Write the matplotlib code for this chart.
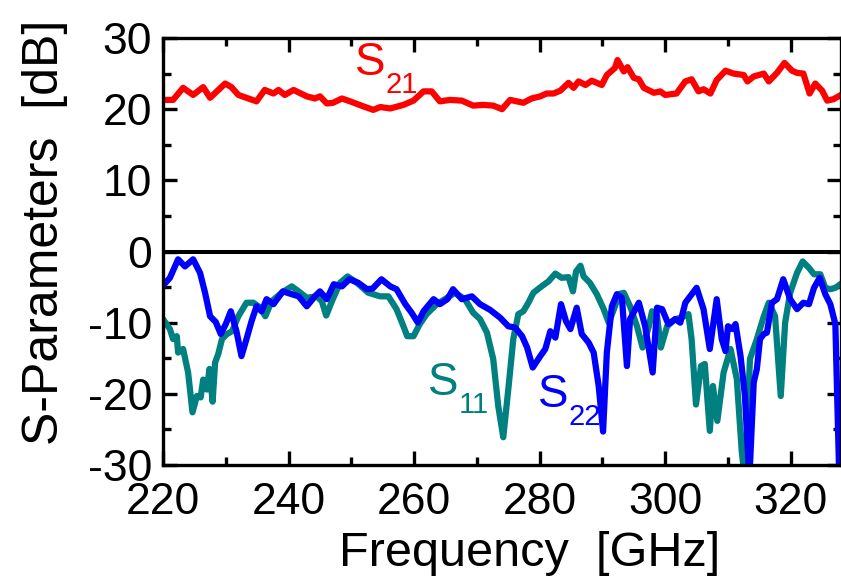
import numpy as np
import matplotlib
matplotlib.use('Agg')
import matplotlib.pyplot as plt
import matplotlib.transforms as mtransforms
from matplotlib.ticker import MultipleLocator

plt.rcParams['font.family'] = ['Liberation Sans', 'DejaVu Sans']
plt.rcParams['axes.unicode_minus'] = False

# S21 (gain) trace
s21_f = [220.0, 221.6, 223.2, 224.8, 226.4, 227.5, 229.9, 230.9, 232.0, 233.6, 234.9, 236.2,
         237.6, 238.4, 239.4, 240.8, 242.9, 244.2, 245.0, 246.1, 247.1, 248.5, 249.8, 251.9,
         253.5, 254.6, 256.2, 258.3, 259.9, 261.5, 262.8, 264.1, 265.7, 267.6, 269.4, 271.0,
         272.6, 274.0, 275.3, 277.4, 278.7, 280.1, 281.1, 282.2, 283.3, 284.6, 285.4, 286.2,
         287.3, 288.3, 289.9, 290.7, 292.0, 292.4, 293.4, 294.0, 295.0, 295.8, 296.6, 298.2,
         299.2, 300.0, 301.8, 303.2, 304.2, 305.3, 306.1, 307.2, 308.2, 309.6, 310.9, 312.5,
         313.1, 314.1, 315.7, 316.5, 317.8, 319.0, 320.2, 321.0, 322.0, 323.0, 323.9, 325.0,
         325.8, 326.8, 327.8]
s21_db = [21.3, 21.3, 23.0, 22.0, 23.1, 21.6, 23.6, 23.1, 22.0, 21.5, 21.1, 22.7,
          22.2, 22.7, 22.0, 22.7, 21.8, 21.5, 21.8, 20.8, 20.9, 21.5, 21.1, 20.4,
          19.9, 20.3, 20.1, 20.6, 21.2, 22.5, 22.5, 21.1, 21.3, 21.2, 20.5, 20.6,
          20.5, 20.0, 21.3, 20.9, 21.5, 21.8, 22.2, 22.2, 22.6, 23.7, 23.0, 23.9,
          23.4, 24.0, 23.4, 24.8, 25.8, 26.9, 25.3, 25.9, 24.4, 24.2, 23.0, 22.3,
          22.5, 22.0, 22.2, 23.9, 24.2, 22.5, 22.8, 22.2, 24.1, 25.4, 25.0, 24.8,
          23.9, 24.6, 25.0, 23.9, 25.1, 26.5, 25.4, 25.1, 25.0, 22.2, 23.6, 22.6,
          21.2, 21.4, 21.9]

# S11 (input reflection)
s11_f = [220.0, 221.1, 221.6, 222.2, 222.4, 223.2, 224.0, 224.7, 225.4, 226.0, 226.4, 227.0,
         227.4, 227.9, 228.3, 228.8, 229.4, 230.2, 231.0, 232.0, 233.3, 234.4, 235.5, 236.3,
         237.3, 238.9, 240.5, 241.6, 242.9, 244.5, 245.3, 246.0, 246.9, 248.2, 249.4, 250.9,
         252.7, 254.6, 255.9, 257.2, 258.3, 258.9, 259.9, 260.9, 262.0, 263.6, 264.9, 266.5,
         268.1, 269.4, 270.5, 271.6, 272.6, 273.4, 274.2, 275.0, 275.8, 276.6, 277.4, 278.2,
         279.0, 280.3, 281.4, 282.5, 283.5, 284.6, 285.3, 285.8, 286.5, 287.0, 288.0, 289.1,
         290.2, 291.0, 292.0, 292.6, 293.4, 294.4, 295.5, 296.4, 297.4, 297.9, 298.7, 299.3,
         300.3, 301.6, 302.6, 303.7, 304.2, 304.9, 305.7, 306.3, 307.1, 307.6, 308.3, 309.3,
         310.4, 311.4, 312.2, 312.7, 313.5, 314.6, 315.7, 316.5, 317.5, 318.4, 319.1, 319.9,
         321.0, 321.9, 322.9, 323.7, 324.7, 325.5, 326.3, 327.1, 327.9]
s11_db = [-9.5, -10.9, -12.3, -11.9, -14.2, -13.7, -17.0, -22.6, -20.3, -20.5, -18.0, -19.4,
          -16.5, -21.1, -15.6, -14.4, -12.3, -11.6, -11.2, -9.1, -7.2, -7.2, -7.9, -9.1,
          -7.0, -5.8, -4.9, -5.6, -6.5, -6.3, -7.0, -9.0, -7.0, -4.4, -3.5, -4.4,
          -5.8, -6.3, -6.3, -8.1, -10.5, -11.9, -11.9, -10.2, -8.8, -7.4, -6.7, -5.8,
          -6.7, -8.6, -9.5, -11.4, -15.1, -21.7, -26.1, -19.4, -12.3, -8.8, -8.4, -7.2,
          -5.8, -4.9, -4.2, -3.1, -3.7, -3.6, -5.6, -2.8, -2.0, -3.5, -4.4, -6.0,
          -8.1, -10.0, -7.7, -6.0, -5.8, -7.7, -10.5, -13.5, -10.5, -8.4, -9.1, -13.5,
          -10.5, -9.5, -9.3, -8.8, -12.3, -21.5, -16.1, -15.8, -25.2, -18.9, -23.8, -17.0,
          -13.7, -17.9, -28.2, -32.0, -15.1, -12.3, -9.1, -7.2, -9.1, -20.3, -10.0, -5.8,
          -3.0, -1.4, -2.3, -3.2, -3.2, -5.1, -5.3, -5.1, -4.6]

# S22 (output reflection)
s22_f = [220.0, 221.1, 222.4, 223.5, 224.8, 225.9, 226.7, 227.5, 228.4, 229.2, 230.0, 230.8,
         231.7, 232.5, 233.3, 234.1, 234.9, 235.7, 236.5, 237.6, 239.1, 240.5, 241.6, 242.9,
         244.2, 245.0, 246.1, 247.2, 248.5, 249.7, 251.1, 252.5, 253.4, 254.8, 256.2, 257.2,
         258.6, 259.6, 260.6, 261.5, 263.1, 264.1, 265.3, 266.2, 267.6, 269.2, 270.5, 272.1,
         273.7, 275.0, 276.1, 277.2, 278.0, 278.9, 280.1, 280.9, 281.7, 282.5, 283.4, 284.2,
         284.9, 285.9, 286.7, 287.8, 288.6, 289.4, 290.1, 290.7, 291.5, 292.3, 293.1, 293.9,
         294.4, 295.8, 296.8, 298.0, 298.7, 299.5, 300.5, 301.6, 302.4, 303.2, 305.0, 306.1,
         307.1, 308.2, 309.0, 309.6, 310.0, 310.7, 311.2, 312.0, 312.7, 313.4, 314.1, 314.6,
         315.1, 315.7, 316.2, 317.0, 317.8, 318.8, 319.9, 321.0, 322.0, 322.9, 323.7, 324.6,
         325.5, 326.3, 327.1, 327.7]
s22_db = [-4.8, -3.7, -1.1, -2.1, -1.1, -3.0, -5.8, -9.1, -9.9, -11.6, -10.2, -8.4,
          -11.2, -14.7, -12.3, -9.8, -7.7, -8.4, -6.7, -7.4, -5.6, -6.0, -6.3, -7.7,
          -6.3, -5.6, -6.7, -4.6, -4.9, -3.9, -4.4, -5.3, -5.2, -3.9, -4.9, -5.3,
          -7.4, -8.6, -10.0, -8.4, -6.7, -7.4, -6.7, -5.3, -6.7, -6.3, -7.4, -8.2,
          -9.3, -10.5, -10.7, -11.9, -13.5, -16.3, -14.7, -13.7, -11.2, -12.1, -7.4, -9.8,
          -10.9, -7.9, -11.6, -12.8, -14.2, -18.9, -25.3, -14.2, -7.7, -6.0, -6.5, -16.1,
          -9.5, -7.2, -10.5, -17.0, -7.9, -8.1, -10.2, -9.5, -10.0, -7.2, -5.1, -8.1,
          -13.7, -6.7, -12.3, -14.0, -10.5, -10.9, -10.2, -14.7, -20.3, -32.0, -18.4, -16.5,
          -12.3, -11.6, -11.4, -7.2, -6.7, -3.9, -6.7, -8.1, -7.2, -7.4, -5.1, -3.7,
          -6.0, -7.4, -10.2, -31.0]

# trace labels: (freq, dB, subscript, colour)
labels = [(250.6, 24.8, '21', '#FF0000'),
          (262.2, -20.1, '11', '#008080'),
          (279.8, -21.9, '22', '#0000FF')]

fig = plt.figure(figsize=(8.41, 5.78), dpi=100)
ax = fig.add_axes([163 / 841, 1 - 465 / 578, 678 / 841, 427 / 578])

lw = 4.5
ax.plot(s11_f, s11_db, color='#008080', lw=lw, solid_joinstyle='round')
ax.plot(s22_f, s22_db, color='#0000FF', lw=lw, solid_joinstyle='round')
ax.plot(s21_f, s21_db, color='#FF0000', lw=lw, solid_joinstyle='round')
ax.axhline(0, color='black', lw=2.9)

ax.set_xlim(220, 328)
ax.set_ylim(-30, 30)
ax.xaxis.set_major_locator(MultipleLocator(20))
ax.xaxis.set_minor_locator(MultipleLocator(10))
ax.yaxis.set_major_locator(MultipleLocator(10))
ax.yaxis.set_minor_locator(MultipleLocator(5))
ax.tick_params(which='both', direction='in', top=True, right=True, width=2.4)
ax.tick_params(which='major', length=10, labelsize=32)
ax.tick_params(which='minor', length=5.5)
ax.tick_params(axis='x', pad=12)
ax.tick_params(axis='y', pad=8)
for sp in ax.spines.values():
    sp.set_linewidth(2.4)

ax.set_xlabel('Frequency  [GHz]', fontsize=35)
ax.set_ylabel('S-Parameters  [dB]', fontsize=36)
ax.xaxis.set_label_coords(0.541, -0.155)
ax.yaxis.set_label_coords(-0.14, 0.545)

for f, db, sub, col in labels:
    ax.text(f, db, 'S', color=col, fontsize=33, ha='left', va='baseline')
    off = mtransforms.offset_copy(ax.transData, fig=fig, x=22, y=-13, units='points')
    ax.text(f, db, sub, color=col, fontsize=21, ha='left', va='baseline', transform=off)

fig.savefig('out.png', dpi=100)
